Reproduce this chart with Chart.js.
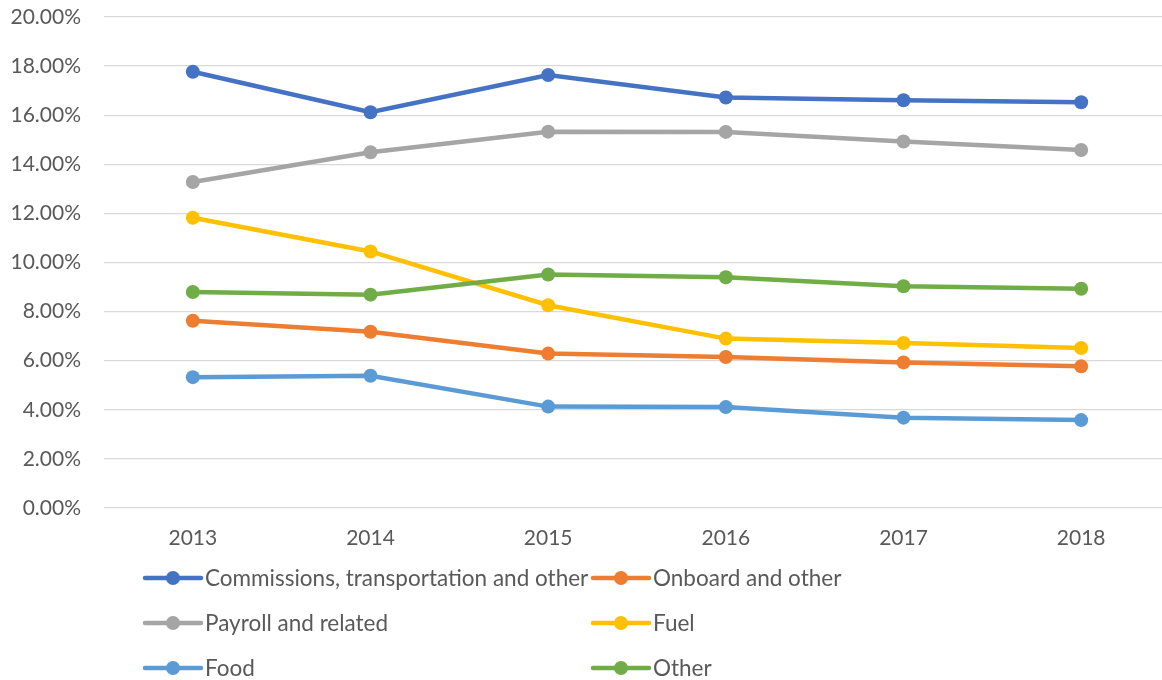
<!DOCTYPE html>
<html>
<head>
<meta charset="utf-8">
<script src="https://cdn.jsdelivr.net/npm/chart.js@4"></script>
<style>
  html, body { margin: 0; padding: 0; background: #fff; overflow: hidden; }
  #wrap { width: 1185px; height: 680px; }
</style>
</head>
<body>
<div id="wrap"><canvas id="chart"></canvas></div>
<script>
// years on the x axis
const years = ['2013', '2014', '2015', '2016', '2017', '2018'];

// series names (legend order)
const seriesNames = [
    'Commissions, transportation and other',
    'Onboard and other',
    'Payroll and related',
    'Fuel',
    'Food',
    'Other'
];

// values in percent
const commissions = [17.77, 16.12, 17.64, 16.72, 16.61, 16.53];
const onboard     = [7.63, 7.18, 6.29, 6.15, 5.93, 5.77];
const payroll     = [13.28, 14.49, 15.33, 15.32, 14.93, 14.58];
const fuel        = [11.82, 10.45, 8.26, 6.90, 6.72, 6.52];
const food        = [5.33, 5.39, 4.13, 4.11, 3.68, 3.58];
const other       = [8.80, 8.69, 9.51, 9.40, 9.03, 8.93];

// y axis ticks
const yMin = 0, yMax = 20, yStep = 2;

const seriesValues = [commissions, onboard, payroll, fuel, food, other];
const colors = ['#4472C4', '#ED7D31', '#A5A5A5', '#FFC000', '#5B9BD5', '#70AD47'];

const FONT = 'Lato, "Open Sans", sans-serif';
const TEXT = '#595959';

// legend drawn in two fixed columns like the original
const gridLegend = {
    id: 'gridLegend',
    afterDraw(chart) {
        const ctx = chart.ctx;
        const cols = [145, 593];
        const rows = [578, 623, 668];
        ctx.save();
        ctx.font = '22.5px ' + FONT;
        ctx.textBaseline = 'middle';
        ctx.textAlign = 'left';
        chart.data.datasets.forEach((ds, i) => {
            const x = cols[i % 2];
            const y = rows[Math.floor(i / 2)];
            ctx.strokeStyle = ds.borderColor;
            ctx.lineWidth = 4.5;
            ctx.lineCap = 'round';
            ctx.beginPath();
            ctx.moveTo(x, y);
            ctx.lineTo(x + 56, y);
            ctx.stroke();
            ctx.fillStyle = ds.borderColor;
            ctx.beginPath();
            ctx.arc(x + 28, y, 7, 0, Math.PI * 2);
            ctx.fill();
            ctx.fillStyle = TEXT;
            ctx.fillText(ds.label, x + 60, y + 1);
        });
        ctx.restore();
    }
};

new Chart(document.getElementById('chart'), {
    type: 'line',
    data: {
        labels: years,
        datasets: seriesNames.map((name, i) => ({
            label: name,
            data: seriesValues[i],
            borderColor: colors[i],
            backgroundColor: colors[i],
            borderWidth: 4.5,
            pointRadius: 7,
            pointHoverRadius: 7,
            pointBorderWidth: 0,
            tension: 0,
            order: seriesNames.length - i
        }))
    },
    options: {
        responsive: true,
        maintainAspectRatio: false,
        animation: false,
        layout: { padding: { top: 17, right: 15, left: 0, bottom: 0 } },
        plugins: {
            legend: { display: false },
            tooltip: { enabled: false }
        },
        scales: {
            x: {
                offset: true,
                grid: { display: false, drawTicks: false },
                border: { display: false },
                ticks: { color: TEXT, font: { family: FONT, size: 21 }, padding: 18 },
                afterFit(scale) { scale.height = 172; }
            },
            y: {
                min: yMin,
                max: yMax,
                grid: { color: '#D9D9D9', lineWidth: 1.3, drawTicks: false },
                border: { display: false },
                ticks: {
                    stepSize: yStep,
                    color: TEXT,
                    font: { family: FONT, size: 21 },
                    padding: 23,
                    callback: v => v.toFixed(2) + '%'
                },
                afterFit(scale) {
                    scale.width = 104;
                    scale.paddingTop = 0;
                    scale.paddingBottom = 0;
                }
            }
        }
    },
    plugins: [gridLegend]
});
</script>
</body>
</html>
